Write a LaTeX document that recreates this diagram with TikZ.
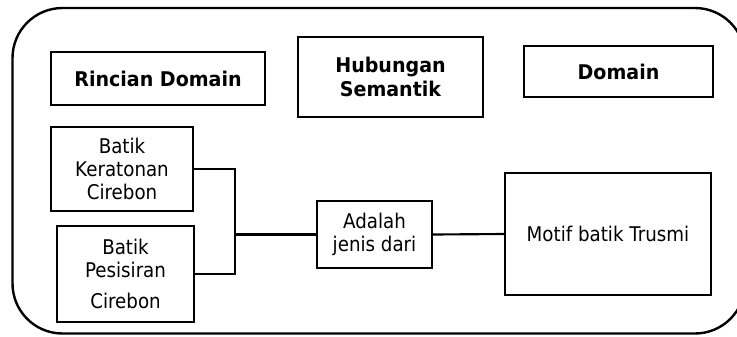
\documentclass[tikz,border=0pt]{standalone}
\usepackage{fontspec}
\setmainfont{DejaVu Sans}[FakeStretch=0.9,BoldFeatures={FakeStretch=0.94}]
\begin{document}
\begin{tikzpicture}[x=0.75pt,y=-0.75pt,
  box/.style={draw,line width=1.6pt,align=center,inner sep=0pt,font=\fontsize{15.2}{17.5}\selectfont},
  hdr/.style={box,font=\fontsize{15.2}{17.5}\selectfont\bfseries},
  conn/.style={line width=1.6pt}]
\useasboundingbox (0,0) rectangle (737,336);
\draw[line width=1.8pt,rounded corners=37.5pt] (12.5,8) rectangle (745,333.5);
\node[hdr,minimum width=160.5pt,minimum height=39.75pt] (rd) at (158,78.5) {Rincian Domain};
\node[hdr,minimum width=138.75pt,minimum height=60pt] (hs) at (390.5,77) {Hubungan\\Semantik};
\node[hdr,minimum width=141.75pt,minimum height=38.25pt] (dm) at (618.5,71.5) {Domain};
\node[box,minimum width=106.5pt,minimum height=63pt] (bk) at (122,169) {Batik\\Keratonan\\Cirebon};
\node[box,minimum width=102.75pt,minimum height=72pt] (bp) at (125.5,274) {Batik\\Pesisiran\\[6pt]Cirebon};
\node[box,minimum width=86.25pt,minimum height=50.25pt] (aj) at (374.5,234.5) {Adalah\\jenis dari};
\node[box,minimum width=154.5pt,minimum height=91.5pt] (mt) at (608,234) {Motif batik Trusmi};
\coordinate (j) at (235,234.5);
\draw[conn] (bk.east) -| (j) |- (bp.east);
\draw[conn] (j) -- (aj.west);
\draw[conn] (aj.east) -- (mt.west);
\end{tikzpicture}
\end{document}
